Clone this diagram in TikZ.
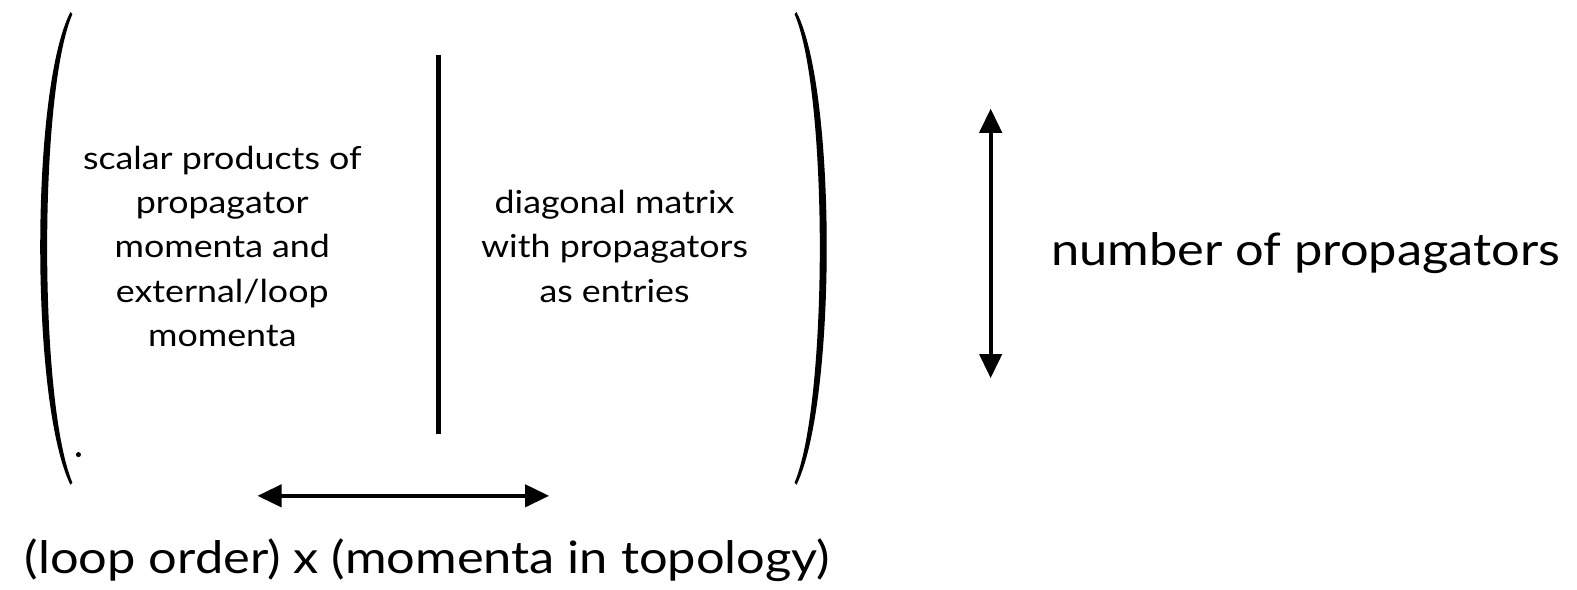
\documentclass[tikz,border=0pt]{standalone}
\usepackage{fontspec}
\setmainfont{Lato}[FakeStretch=1.13]
\usetikzlibrary{arrows.meta}
\begin{document}
\begin{tikzpicture}[x=1pt,y=-1pt,
  small/.style={font=\fontsize{31.5}{44}\selectfont, align=center, inner sep=0pt},
  big/.style={font=\fontsize{44.5}{50}\selectfont, inner sep=0pt},
  dbl/.style={line width=4pt, {Triangle[length=24pt,width=22pt]}-{Triangle[length=24pt,width=22pt]}},
  bar/.style={line width=4pt}]
\useasboundingbox[fill=white] (0,0) rectangle (1568,586);
% parentheses
\fill (70,12) .. controls (30,90) and (30,400) .. (70,482) -- (72,480) .. controls (38.5,400) and (38.5,92) .. (72,14) -- cycle;
\fill (792,12) .. controls (832,90) and (832,400) .. (792,482) -- (790,480) .. controls (823.5,400) and (823.5,92) .. (790,14) -- cycle;
\fill (78,452) circle (2.5);
% divider
\coordinate (dtop) at (436,55);
\coordinate (dbot) at (436,432);
\draw[bar] (dtop) -- (dbot);
% texts
\node[small] (lefttext) at (221,245) {scalar products of\\propagator\\momenta and\\external/loop\\momenta};
\node[small] (righttext) at (611,245) {diagonal matrix\\with propagators\\as entries};
\node[big, anchor=base west] (nprop) at (1045,264) {number of propagators};
\node[big, anchor=base] (loops) at (425,570) {(loop order) x (momenta in topology)};
% arrows
\coordinate (vtop) at (985,108);
\coordinate (vbot) at (985,376);
\draw[dbl] (vtop) -- (vbot);
\coordinate (hl) at (256,493);
\coordinate (hr) at (546,493);
\draw[dbl] (hl) -- (hr);
\end{tikzpicture}
\end{document}
